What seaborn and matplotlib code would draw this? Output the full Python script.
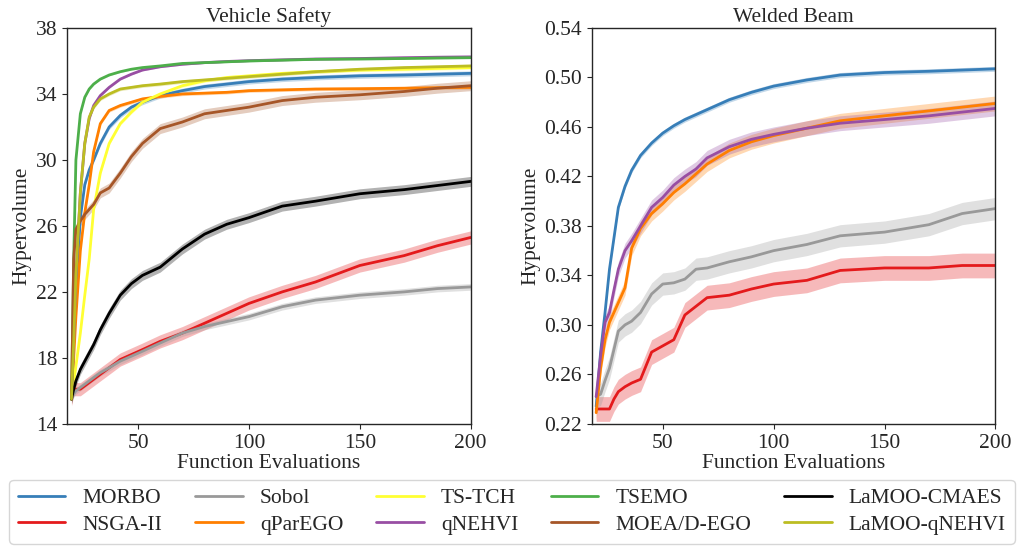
import matplotlib
matplotlib.use("Agg")
import matplotlib.pyplot as plt
import seaborn as sns
import numpy as np

# ---- Vehicle Safety (left panel) ----
x_vs = [20, 21, 22, 24, 26, 28, 30, 33, 37, 42, 47, 52, 60, 70, 80, 90, 100, 115, 130, 150, 170, 185, 200]
vs_morbo = [15.5, 19, 22, 26.5, 28.5, 29.4, 30.0, 31.0, 32.0, 32.7, 33.2, 33.5, 33.9, 34.2, 34.45, 34.6, 34.75, 34.9, 35.0, 35.1, 35.15, 35.2, 35.25]
vs_nsga = [15.5, 16.1, 16.1, 16.1, 16.3, 16.5, 16.7, 17.0, 17.4, 17.9, 18.2, 18.5, 19.0, 19.5, 20.1, 20.7, 21.3, 22.0, 22.6, 23.6, 24.2, 24.8, 25.3]
vs_sobol = [15.5, 15.8, 16.0, 16.2, 16.4, 16.6, 16.8, 17.1, 17.4, 17.8, 18.1, 18.4, 18.9, 19.5, 19.9, 20.2, 20.5, 21.1, 21.5, 21.8, 22.0, 22.2, 22.3]
vs_parego = [15.5, 18, 20.5, 24.5, 26.8, 28.5, 30.5, 32.2, 33.0, 33.3, 33.5, 33.7, 33.85, 34.0, 34.05, 34.1, 34.2, 34.25, 34.3, 34.32, 34.35, 34.38, 34.4]
vs_tstch = [15.5, 16.5, 17.5, 19.5, 21.8, 24.0, 27.0, 29.2, 31.0, 32.2, 32.9, 33.5, 34.0, 34.5, 34.8, 35.0, 35.1, 35.25, 35.35, 35.45, 35.5, 35.55, 35.6]
vs_nehvi = [15.5, 19, 23, 28, 31, 32.5, 33.3, 33.9, 34.4, 34.9, 35.2, 35.45, 35.65, 35.8, 35.9, 35.97, 36.02, 36.07, 36.12, 36.15, 36.2, 36.23, 36.25]
vs_tsemo = [15.5, 24, 30, 32.8, 33.8, 34.3, 34.6, 34.9, 35.15, 35.35, 35.5, 35.6, 35.7, 35.85, 35.9, 35.95, 36.0, 36.05, 36.1, 36.12, 36.15, 36.18, 36.2]
vs_moead = [15.5, 24, 25.8, 26.3, 26.7, 27.0, 27.3, 28.0, 28.3, 29.2, 30.2, 31.0, 31.9, 32.3, 32.8, 33.0, 33.2, 33.6, 33.8, 33.95, 34.15, 34.35, 34.5]
vs_lamoo_cmaes = [15.5, 16.1, 16.6, 17.3, 17.8, 18.3, 18.8, 19.7, 20.7, 21.8, 22.5, 23.0, 23.5, 24.6, 25.5, 26.1, 26.5, 27.2, 27.5, 27.95, 28.2, 28.45, 28.7]
vs_lamoo_nehvi = [15.5, 19, 23, 28, 31, 32.6, 33.2, 33.7, 34.0, 34.3, 34.4, 34.5, 34.6, 34.75, 34.85, 34.95, 35.05, 35.2, 35.35, 35.5, 35.6, 35.65, 35.7]

# ---- Welded Beam (right panel) ----
x_wb = [20, 22, 24, 26, 28, 30, 33, 36, 40, 45, 50, 55, 60, 65, 70, 80, 90, 100, 115, 130, 150, 170, 185, 200]
wb_morbo = [0.234, 0.278, 0.31, 0.345, 0.37, 0.395, 0.412, 0.425, 0.437, 0.447, 0.455, 0.461, 0.466, 0.470, 0.474, 0.482, 0.488, 0.493, 0.498, 0.502, 0.504, 0.505, 0.506, 0.507]
wb_nsga = [0.232, 0.232, 0.232, 0.232, 0.24, 0.246, 0.25, 0.253, 0.256, 0.278, 0.283, 0.288, 0.308, 0.315, 0.322, 0.324, 0.329, 0.333, 0.336, 0.344, 0.346, 0.346, 0.348, 0.348]
wb_sobol = [0.242, 0.244, 0.255, 0.265, 0.28, 0.295, 0.3, 0.303, 0.31, 0.325, 0.333, 0.334, 0.337, 0.345, 0.346, 0.351, 0.355, 0.36, 0.365, 0.372, 0.375, 0.381, 0.39, 0.394]
wb_parego = [0.229, 0.265, 0.288, 0.302, 0.31, 0.318, 0.33, 0.362, 0.378, 0.39, 0.398, 0.407, 0.414, 0.422, 0.43, 0.441, 0.448, 0.453, 0.459, 0.465, 0.469, 0.473, 0.476, 0.479]
wb_nehvi = [0.242, 0.275, 0.302, 0.31, 0.328, 0.345, 0.36, 0.368, 0.38, 0.395, 0.403, 0.413, 0.42, 0.426, 0.435, 0.444, 0.45, 0.454, 0.459, 0.463, 0.466, 0.469, 0.472, 0.475]

colors = {
    "MORBO": "#377eb8", "NSGA-II": "#e41a1c", "Sobol": "#999999",
    "qParEGO": "#ff7f00", "TS-TCH": "#ffff33", "qNEHVI": "#984ea3",
    "TSEMO": "#4daf4a", "MOEA/D-EGO": "#a65628", "LaMOO-CMAES": "#000000",
    "LaMOO-qNEHVI": "#bcbd22",
}

# (name, values, band half-width)
left_series = [
    ("MORBO", vs_morbo, 0.15), ("NSGA-II", vs_nsga, 0.4), ("Sobol", vs_sobol, 0.2),
    ("qParEGO", vs_parego, 0.1), ("TS-TCH", vs_tstch, 0.1), ("qNEHVI", vs_nehvi, 0.05),
    ("TSEMO", vs_tsemo, 0.05), ("MOEA/D-EGO", vs_moead, 0.3), ("LaMOO-CMAES", vs_lamoo_cmaes, 0.3),
    ("LaMOO-qNEHVI", vs_lamoo_nehvi, 0.1),
]
right_series = [
    ("MORBO", wb_morbo, 0.002), ("NSGA-II", wb_nsga, 0.01), ("Sobol", wb_sobol, 0.009),
    ("qParEGO", wb_parego, 0.006), ("qNEHVI", wb_nehvi, 0.006),
]

sns.set_style("ticks")
plt.rcParams["font.family"] = ["Liberation Serif", "DejaVu Serif"]
fs = 15.5

fig = plt.figure(figsize=(10.22, 5.49), dpi=100)
ax1 = fig.add_axes([0.0656, 0.228, 0.395, 0.721])
ax2 = fig.add_axes([0.579, 0.228, 0.395, 0.721])


def draw(ax, x, series):
    x = np.array(x)
    for name, vals, err in series:
        y = np.array(vals)
        ax.fill_between(x, y - err, y + err, color=colors[name], alpha=0.3, lw=0)
        sns.lineplot(x=x, y=y, ax=ax, color=colors[name], lw=2, label=name, legend=False)


draw(ax1, x_vs, left_series)
draw(ax2, x_wb, right_series)

ax1.set_xlim(18, 200)
ax1.set_ylim(14, 38)
ax1.set_yticks(np.arange(14, 39, 4))
ax1.set_xticks([50, 100, 150, 200])
ax1.set_title("Vehicle Safety", fontsize=fs, pad=4)

ax2.set_xlim(18, 200)
ax2.set_ylim(0.22, 0.54)
ax2.set_yticks(np.arange(0.22, 0.545, 0.04))
ax2.set_yticklabels([f"{v:.2f}" for v in np.arange(0.22, 0.545, 0.04)])
ax2.set_xticks([50, 100, 150, 200])
ax2.set_title("Welded Beam", fontsize=fs, pad=4)

for ax in (ax1, ax2):
    ax.set_xlabel("Function Evaluations", fontsize=fs, labelpad=1)
    ax.set_ylabel("Hypervolume", fontsize=fs, labelpad=3)
    ax.tick_params(labelsize=fs)
    for s in ax.spines.values():
        s.set_visible(True)
        s.set_linewidth(1.0)

handles, labels = ax1.get_legend_handles_labels()
fig.legend(handles, labels, ncol=5, loc="lower left", mode="expand",
           bbox_to_anchor=(0.005, 0.002, 0.992, 0.12), fontsize=fs,
           handlelength=2.2, frameon=True, borderaxespad=0.2,
           labelspacing=0.3)

fig.savefig("out.png", dpi=100)
